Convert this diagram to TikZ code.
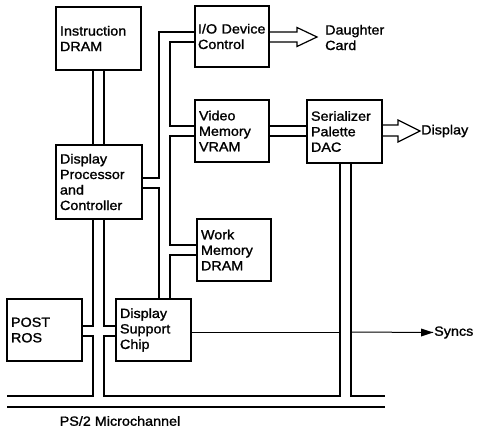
\documentclass[tikz,border=0pt]{standalone}
\usepackage{fontspec}
\setmainfont{Liberation Sans}[FakeStretch=1.08,FakeBold=1.3]
\usetikzlibrary{arrows.meta}
\begin{document}
\begin{tikzpicture}[x=1pt,y=-1pt,
  txt/.style={font=\fontsize{13.3}{15.5}\selectfont},
  box/.style={txt, draw, line width=1.2pt, align=left, inner xsep=4pt, inner ysep=0pt},
  lbl/.style={txt, inner sep=1pt, align=left},
  bus/.style={line width=1.2pt, line join=miter}]
\useasboundingbox (0,0) rectangle (481,435);
% blocks
\node[box, minimum width=85pt, text width=77pt, minimum height=63pt] (ins) at (98.5,38.5) {Instruction\\DRAM};
\node[box, minimum width=86pt, text width=78pt, minimum height=74pt] (dpc) at (99,182) {Display\\Processor\\and\\Controller};
\node[box, inner xsep=3pt, minimum width=74pt, text width=68pt, minimum height=61pt] (io) at (232,36.5) {I/O Device\\Control};
\node[box, minimum width=74pt, text width=66pt, minimum height=62pt] (vram) at (232,131) {Video\\Memory\\VRAM};
\node[box, minimum width=75pt, text width=67pt, minimum height=63pt] (ser) at (344.5,131.5) {Serializer\\Palette\\DAC};
\node[box, minimum width=74pt, text width=66pt, minimum height=62pt] (work) at (234,250) {Work\\Memory\\DRAM};
\node[box, minimum width=75pt, text width=67pt, minimum height=62pt] (post) at (44.5,330) {POST\\ROS};
\node[box, minimum width=75pt, text width=67pt, minimum height=62pt] (dsc) at (153.5,330) {Display\\Support\\Chip};
% labels
\node[lbl, anchor=west] (dc) at (324,37.5) {Daughter\\Card};
\node[lbl, anchor=west] (disp) at (420,131) {Display};
\node[lbl, anchor=west] (syncs) at (433,332.5) {Syncs};
\node[lbl] (ps2) at (120,421) {PS/2 Microchannel};
% bus end points
\coordinate (mcTL) at (7,396);
\coordinate (mcTR) at (385,396);
\coordinate (mcBL) at (7,407);
\coordinate (mcBR) at (385,407);
% main vertical bus
\draw[bus] (ins.south -| 93,0) -- (dpc.north -| 93,0);
\draw[bus] (ins.south -| 104,0) -- (dpc.north -| 104,0);
\draw[bus] (dpc.south -| 93,0) -- (93,326) -- (post.east |- 0,326);
\draw[bus] (dpc.south -| 104,0) -- (104,326) -- (dsc.west |- 0,326);
\draw[bus] (post.east |- 0,336) -- (93,336) -- (93,396) -- (mcTL);
\draw[bus] (dsc.west |- 0,336) -- (104,336) -- (104,396) -- (340,396) -- (ser.south -| 340,0);
\draw[bus] (ser.south -| 351,0) -- (351,396) -- (mcTR);
\draw[bus] (mcBL) -- (mcBR);
% memory bus
\draw[bus] (dpc.east |- 0,178) -- (159,178) -- (159,32) -- (io.west |- 0,32);
\draw[bus] (io.west |- 0,42) -- (170,42) -- (170,126) -- (vram.west |- 0,126);
\draw[bus] (vram.west |- 0,136) -- (170,136) -- (170,245) -- (work.west |- 0,245);
\draw[bus] (work.west |- 0,255) -- (170,255) -- (dsc.north -| 170,0);
\draw[bus] (dpc.east |- 0,188) -- (159,188) -- (dsc.north -| 159,0);
% VRAM to serializer
\draw[bus] (vram.east |- 0,126) -- (ser.west |- 0,126);
\draw[bus] (vram.east |- 0,136) -- (ser.west |- 0,136);
% hollow arrows
\draw[bus] (io.east |- 0,32) -- (297,32) -- (297,27.5) -- (317,37) -- (297,46.5) -- (297,42) -- (io.east |- 0,42);
\draw[bus] (ser.east |- 0,125) -- (398,125) -- (398,120) -- (420,131) -- (398,142) -- (398,136) -- (ser.east |- 0,136);
% syncs
\draw[line width=1pt] (dsc.east |- 0,332) -- (340,332);
\draw[line width=1pt] (351,332) -- (syncs.west);
\fill (syncs.west) -- ([xshift=-12pt,yshift=4pt]syncs.west) -- ([xshift=-12pt,yshift=-4pt]syncs.west) -- cycle;
\end{tikzpicture}
\end{document}
